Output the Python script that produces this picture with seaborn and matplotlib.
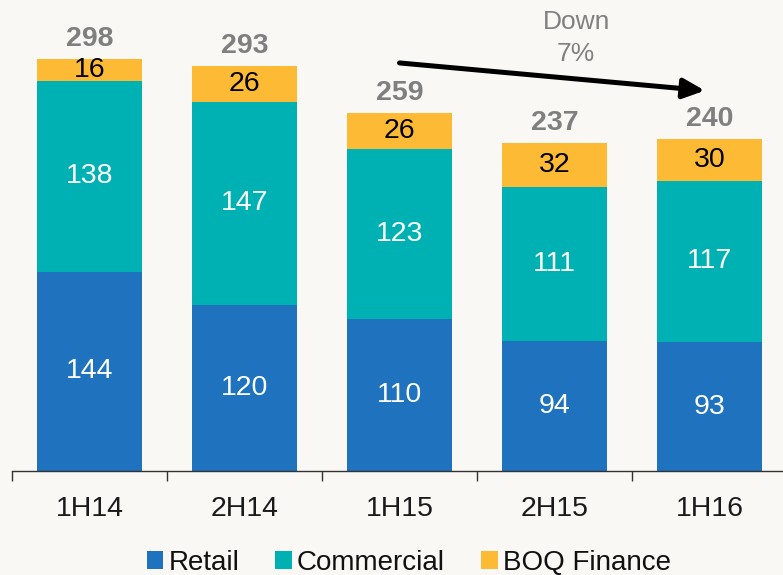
import numpy as np
import pandas as pd
import matplotlib.pyplot as plt
import seaborn as sns
from matplotlib.patches import Patch

# ==============================
# Data
# ==============================
periods = ["1H14", "2H14", "1H15", "2H15", "1H16"]
retail = [144, 120, 110, 94, 93]
commercial = [138, 147, 123, 111, 117]
boq_finance = [16, 26, 26, 32, 30]
totals = [298, 293, 259, 237, 240]

series_names = ["Retail", "Commercial", "BOQ Finance"]
colors = ["#1E72BE", "#00B1B3", "#FDBA35"]
label_colors = ["white", "white", "black"]

df = pd.DataFrame({
    "period": periods,
    "Retail": retail,
    "Commercial": commercial,
    "BOQ Finance": boq_finance,
})
df["cum_retail"] = df["Retail"]
df["cum_commercial"] = df["Retail"] + df["Commercial"]
df["cum_total"] = df["cum_commercial"] + df["BOQ Finance"]

# ==============================
# Figure
# ==============================
sns.set_style("white")
plt.rcParams["font.family"] = ["Liberation Sans", "DejaVu Sans"]

bg = "#F9F8F5"
fig = plt.figure(figsize=(7.83, 5.75), dpi=100, facecolor=bg)
ax = fig.add_axes([12 / 783, 104 / 575, 775 / 783, 471 / 575])
ax.set_facecolor(bg)

# stacked bars drawn back to front (cumulative heights)
for col, color in zip(["cum_total", "cum_commercial", "cum_retail"], colors[::-1]):
    sns.barplot(data=df, x="period", y=col, color=color, width=0.68,
                saturation=1, ax=ax, linewidth=0)

ax.set_xlim(-0.5, 4.5)
ax.set_ylim(0, 340.5)

# segment labels
bottoms = np.zeros(len(periods))
for name, lc in zip(series_names, label_colors):
    vals = df[name].values
    for i, v in enumerate(vals):
        ax.text(i, bottoms[i] + v / 2, str(v), ha="center", va="center",
                color=lc, fontsize=20.5)
    bottoms += vals

# totals
for i, t in enumerate(totals):
    ax.text(i, bottoms[i] + 5, str(t), ha="center", va="bottom",
            color="#7F7F7F", fontsize=20.5, fontweight="bold")

# trend arrow
ax.annotate("", xy=(3.97, 275), xytext=(2.0, 295),
            arrowprops=dict(arrowstyle="-|>,head_length=1.3,head_width=0.6",
                            color="black", lw=3.6, shrinkA=0, shrinkB=0))
ax.text(3.14, 313, "Down\n7%", ha="center", va="center", color="#808080",
        fontsize=19, linespacing=1.4)

# axes styling
sns.despine(ax=ax, left=True)
ax.spines["bottom"].set_color("#333333")
ax.spines["bottom"].set_linewidth(1.0)
ax.set_yticks([])
ax.set_xlabel("")
ax.set_ylabel("")
ax.set_xticks(range(len(periods)))
ax.set_xticklabels(periods, fontsize=20.5, color="#1A1A1A")
ax.tick_params(axis="x", which="major", length=0, pad=18)
ax.set_xticks(np.arange(-0.5, 5.0, 1.0), minor=True)
ax.tick_params(axis="x", which="minor", length=7, width=1.0, color="#333333",
               direction="out", bottom=True)

# legend
handles = [Patch(facecolor=c, edgecolor="none") for c in colors]
fig.legend(handles, series_names, loc="center", bbox_to_anchor=(0.522, 0.021),
           ncol=3, frameon=False, fontsize=20, handlelength=0.6, handleheight=0.6,
           handletextpad=0.18, columnspacing=1.3, labelcolor="#111111")

fig.savefig("out.png", dpi=100, facecolor=bg)
